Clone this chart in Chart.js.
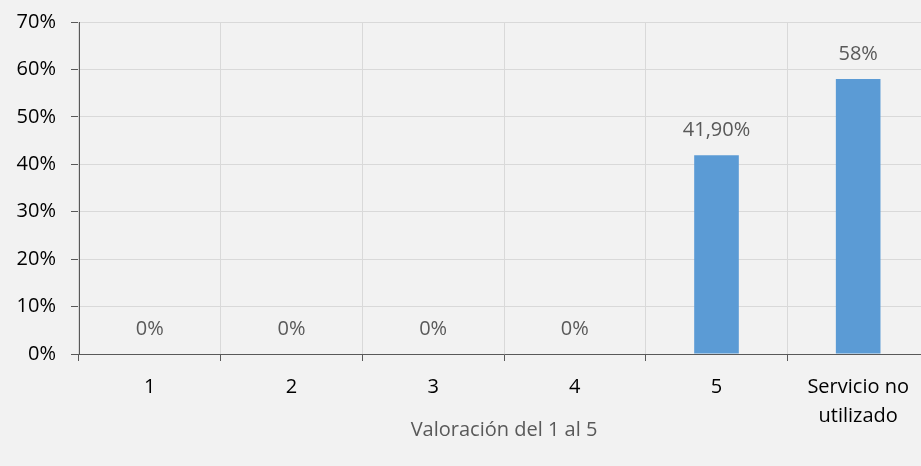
<!DOCTYPE html>
<html>
<head>
<meta charset="utf-8">
<script src="https://cdn.jsdelivr.net/npm/chart.js@4"></script>
<style>
  html, body { margin: 0; padding: 0; background: #f2f2f2; overflow: hidden; }
  #wrap { width: 929px; height: 466px; }
</style>
</head>
<body>
<div id="wrap"><canvas id="barCanvas"></canvas></div>
<script>
const categories = ["1", "2", "3", "4", "5", ["Servicio no", "utilizado"]];
const values = [0, 0, 0, 0, 41.9, 58];
const valueLabels = ["0%", "0%", "0%", "0%", "41,90%", "58%"];
const yTicks = [0, 10, 20, 30, 40, 50, 60, 70];
const axisTitle = "Valoración del 1 al 5";

const FONT = "'Open Sans', 'Noto Sans', sans-serif";

const barLabels = {
    id: "barLabels",
    afterDatasetsDraw(chart) {
        const ctx = chart.ctx;
        const meta = chart.getDatasetMeta(0);
        ctx.save();
        ctx.font = "20px " + FONT;
        ctx.fillStyle = "#595959";
        ctx.textAlign = "center";
        ctx.textBaseline = "middle";
        meta.data.forEach((bar, i) => {
            ctx.fillText(valueLabels[i], bar.x, bar.y - 25);
        });
        ctx.restore();
    }
};

const barCanvas = document.getElementById("barCanvas");

const barChart = new Chart(barCanvas, {
    type: "bar",
    data: {
        labels: categories,
        datasets: [{
            data: values,
            backgroundColor: "#5b9bd5",
            categoryPercentage: 1,
            barPercentage: 0.315
        }]
    },
    options: {
        responsive: true,
        maintainAspectRatio: false,
        animation: false,
        layout: { padding: { top: 22, right: 0, bottom: 0, left: 0 } },
        plugins: {
            legend: { display: false },
            tooltip: { enabled: false }
        },
        scales: {
            y: {
                min: 0,
                max: 70,
                afterBuildTicks(axis) {
                    axis.ticks = yTicks.map(v => ({ value: v }));
                },
                afterFit(axis) {
                    axis.width = 79;
                    axis.paddingTop = 0;
                    axis.paddingBottom = 0;
                },
                border: { color: "#595959", width: 1 },
                grid: {
                    color: "#d9d9d9",
                    tickColor: "#595959",
                    tickLength: 8,
                    lineWidth: 1
                },
                ticks: {
                    padding: 15,
                    color: "#000000",
                    font: { family: FONT, size: 20, lineHeight: 0.6 },
                    callback: v => v + "%"
                }
            },
            x: {
                afterFit(axis) { axis.height = 112; },
                border: { color: "#595959", width: 1 },
                grid: {
                    offset: true,
                    color: "#d9d9d9",
                    tickColor: "#595959",
                    tickLength: 7
                },
                ticks: {
                    padding: 12,
                    color: "#000000",
                    maxRotation: 0,
                    autoSkip: false,
                    font: { family: FONT, size: 20, lineHeight: 1.45 }
                },
                title: {
                    display: true,
                    text: axisTitle,
                    color: "#595959",
                    font: { family: FONT, size: 20 },
                    padding: { top: 0, bottom: 24 }
                }
            }
        }
    },
    plugins: [barLabels]
});
</script>
</body>
</html>
